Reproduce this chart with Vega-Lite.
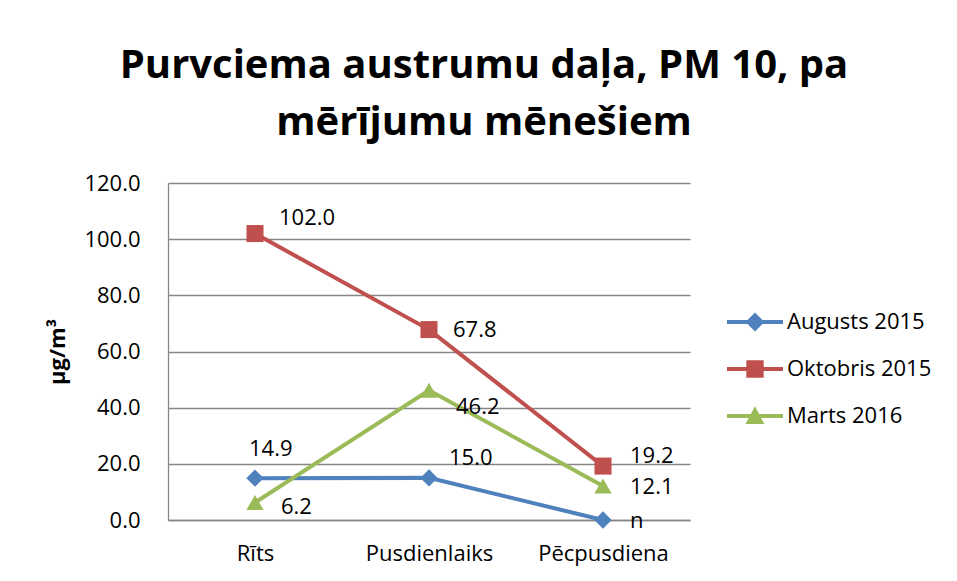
{
  "$schema": "https://vega.github.io/schema/vega-lite/v6.json",
  "width": 522,
  "height": 337,
  "autosize": {"type": "none"},
  "padding": {"left": 168, "top": 183, "right": 267, "bottom": 61},
  "background": "white",
  "title": {
    "text": ["Purvciema austrumu daļa, PM 10, pa", "mērījumu mēnešiem"],
    "font": "Open Sans",
    "fontSize": 40,
    "fontWeight": "bold",
    "lineHeight": 57,
    "anchor": "middle",
    "dx": 55,
    "offset": 29,
    "color": "black"
  },
  "config": {
    "view": {"stroke": null},
    "font": "Open Sans"
  },
  "data": {
    "values": [
      {"cat": "Rīts", "series": "Augusts 2015", "value": 14.9, "label": "14.9"},
      {"cat": "Pusdienlaiks", "series": "Augusts 2015", "value": 15.0, "label": "15.0"},
      {"cat": "Pēcpusdiena", "series": "Augusts 2015", "value": 0, "label": "n"},
      {"cat": "Rīts", "series": "Oktobris 2015", "value": 102.0, "label": "102.0"},
      {"cat": "Pusdienlaiks", "series": "Oktobris 2015", "value": 67.8, "label": "67.8"},
      {"cat": "Pēcpusdiena", "series": "Oktobris 2015", "value": 19.2, "label": "19.2"},
      {"cat": "Rīts", "series": "Marts 2016", "value": 6.2, "label": "6.2"},
      {"cat": "Pusdienlaiks", "series": "Marts 2016", "value": 46.2, "label": "46.2"},
      {"cat": "Pēcpusdiena", "series": "Marts 2016", "value": 12.1, "label": "12.1"}
    ]
  },
  "encoding": {
    "x": {
      "field": "cat",
      "type": "nominal",
      "sort": ["Rīts", "Pusdienlaiks", "Pēcpusdiena"],
      "scale": {"type": "point", "padding": 0.5},
      "axis": {
        "title": null,
        "labelAngle": 0,
        "labelFontSize": 22,
        "labelColor": "black",
        "labelPadding": 23,
        "ticks": false,
        "domainColor": "#868686",
        "domainWidth": 1.3,
        "grid": false
      }
    },
    "y": {
      "field": "value",
      "type": "quantitative",
      "scale": {"domain": [0, 120], "nice": false},
      "axis": {
        "title": "µg/m³",
        "titleFontSize": 22,
        "titleFontWeight": "bold",
        "titleColor": "black",
        "titlePadding": 14,
        "values": [0, 20, 40, 60, 80, 100, 120],
        "format": ".1f",
        "labelFontSize": 22,
        "labelColor": "black",
        "labelPadding": 28,
        "ticks": false,
        "domainColor": "#868686",
        "domainWidth": 1.3,
        "gridColor": "#868686",
        "gridWidth": 1.3
      }
    }
  },
  "layer": [
    {
      "mark": {"type": "point", "filled": true, "size": 784, "opacity": 0},
      "encoding": {
        "color": {
          "field": "series",
          "type": "nominal",
          "scale": {
            "domain": ["Augusts 2015", "Oktobris 2015", "Marts 2016"],
            "range": ["#4F81BD", "#C0504D", "#9BBB59"]
          },
          "legend": {
            "title": null,
            "orient": "none",
            "legendX": 573,
            "legendY": 125,
            "symbolSize": 784,
            "symbolOpacity": 1,
            "symbolStrokeWidth": 0,
            "labelOffset": 18,
            "labelFontSize": 22,
            "labelColor": "black",
            "rowPadding": 22,
            "padding": 0,
            "encode": {"symbols": {"update": {"opacity": {"value": 1}}}}
          }
        },
        "shape": {
          "field": "series",
          "type": "nominal",
          "scale": {
            "domain": ["Augusts 2015", "Oktobris 2015", "Marts 2016"],
            "range": [
              "M-2,-0.14L2,-0.14L2,0.14L-2,0.14ZM0,-0.68L0.68,0L0,0.68L-0.68,0Z",
              "M-2,-0.14L2,-0.14L2,0.14L-2,0.14ZM-0.62,-0.62L0.62,-0.62L0.62,0.62L-0.62,0.62Z",
              "M-2,-0.14L2,-0.14L2,0.14L-2,0.14ZM0,-0.7L0.68,0.58L-0.68,0.58Z"
            ]
          },
          "legend": {
            "title": null,
            "orient": "none",
            "legendX": 573,
            "legendY": 125,
            "symbolSize": 784,
            "symbolOpacity": 1,
            "symbolStrokeWidth": 0,
            "labelOffset": 18,
            "labelFontSize": 22,
            "labelColor": "black",
            "rowPadding": 22,
            "padding": 0,
            "encode": {"symbols": {"update": {"opacity": {"value": 1}}}}
          }
        }
      }
    },
    {
      "transform": [{"filter": "datum.series === 'Augusts 2015'"}],
      "mark": {"type": "line", "strokeWidth": 4, "color": "#4F81BD"},
      "encoding": {}
    },
    {
      "transform": [{"filter": "datum.series === 'Oktobris 2015'"}],
      "mark": {"type": "line", "strokeWidth": 4, "color": "#C0504D"},
      "encoding": {}
    },
    {
      "transform": [{"filter": "datum.series === 'Marts 2016'"}],
      "mark": {"type": "line", "strokeWidth": 4, "color": "#9BBB59"},
      "encoding": {}
    },
    {
      "transform": [{"filter": "datum.series === 'Augusts 2015'"}],
      "mark": {"type": "point", "filled": true, "size": 300, "opacity": 1, "shape": "diamond", "color": "#4F81BD"},
      "encoding": {}
    },
    {
      "transform": [{"filter": "datum.series === 'Oktobris 2015'"}],
      "mark": {"type": "point", "filled": true, "size": 290, "opacity": 1, "shape": "square", "color": "#C0504D"},
      "encoding": {}
    },
    {
      "transform": [{"filter": "datum.series === 'Marts 2016'"}],
      "mark": {"type": "point", "filled": true, "size": 300, "opacity": 1, "shape": "triangle-up", "color": "#9BBB59"},
      "encoding": {}
    },
    {
      "transform": [{"filter": "datum.series === 'Augusts 2015' && datum.cat === 'Rīts'"}],
      "mark": {"type": "text", "align": "left", "baseline": "middle", "fontSize": 22, "dx": -6, "dy": -29, "color": "black"},
      "encoding": {"text": {"field": "label"}}
    },
    {
      "transform": [{"filter": "datum.series === 'Augusts 2015' && datum.cat === 'Pusdienlaiks'"}],
      "mark": {"type": "text", "align": "left", "baseline": "middle", "fontSize": 22, "dx": 20, "dy": -20, "color": "black"},
      "encoding": {"text": {"field": "label"}}
    },
    {
      "transform": [{"filter": "datum.series === 'Augusts 2015' && datum.cat === 'Pēcpusdiena'"}],
      "mark": {"type": "text", "align": "left", "baseline": "middle", "fontSize": 22, "dx": 27, "dy": 1, "color": "black"},
      "encoding": {"text": {"field": "label"}}
    },
    {
      "transform": [{"filter": "datum.series === 'Oktobris 2015' && datum.cat === 'Rīts'"}],
      "mark": {"type": "text", "align": "left", "baseline": "middle", "fontSize": 22, "dx": 24, "dy": -16, "color": "black"},
      "encoding": {"text": {"field": "label"}}
    },
    {
      "transform": [{"filter": "datum.series === 'Oktobris 2015' && datum.cat === 'Pusdienlaiks'"}],
      "mark": {"type": "text", "align": "left", "baseline": "middle", "fontSize": 22, "dx": 24, "dy": 0, "color": "black"},
      "encoding": {"text": {"field": "label"}}
    },
    {
      "transform": [{"filter": "datum.series === 'Oktobris 2015' && datum.cat === 'Pēcpusdiena'"}],
      "mark": {"type": "text", "align": "left", "baseline": "middle", "fontSize": 22, "dx": 27, "dy": -10, "color": "black"},
      "encoding": {"text": {"field": "label"}}
    },
    {
      "transform": [{"filter": "datum.series === 'Marts 2016' && datum.cat === 'Rīts'"}],
      "mark": {"type": "text", "align": "left", "baseline": "middle", "fontSize": 22, "dx": 26, "dy": 4, "color": "black"},
      "encoding": {"text": {"field": "label"}}
    },
    {
      "transform": [{"filter": "datum.series === 'Marts 2016' && datum.cat === 'Pusdienlaiks'"}],
      "mark": {"type": "text", "align": "left", "baseline": "middle", "fontSize": 22, "dx": 27, "dy": 17, "color": "black"},
      "encoding": {"text": {"field": "label"}}
    },
    {
      "transform": [{"filter": "datum.series === 'Marts 2016' && datum.cat === 'Pēcpusdiena'"}],
      "mark": {"type": "text", "align": "left", "baseline": "middle", "fontSize": 22, "dx": 27, "dy": 1, "color": "black"},
      "encoding": {"text": {"field": "label"}}
    }
  ]
}
